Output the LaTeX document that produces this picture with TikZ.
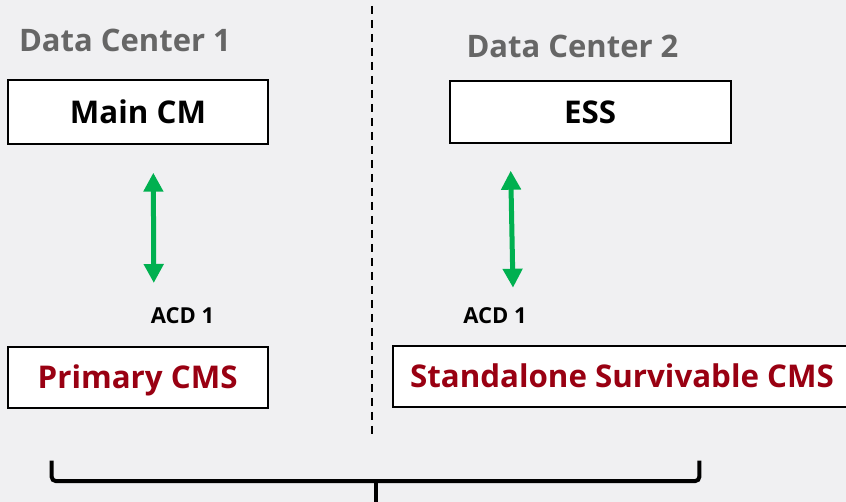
\documentclass[tikz,border=0pt]{standalone}
\usepackage{fontspec}
\setmainfont{Open Sans}
\usetikzlibrary{arrows.meta}
\definecolor{bgc}{HTML}{F0F0F2}
\definecolor{titlegray}{HTML}{666666}
\definecolor{cmsred}{HTML}{990012}
\definecolor{arrgreen}{HTML}{00B050}
\begin{document}
\begin{tikzpicture}[x=1pt,y=-1pt,
  boxnode/.style={draw=black, fill=white, line width=2pt, inner sep=0pt,
    text height=22.5pt, text depth=0pt, font=\bfseries\fontsize{31.3}{36}\selectfont},
  title/.style={anchor=base, text=titlegray, inner sep=0pt,
    font=\bfseries\fontsize{31}{36}\selectfont},
  acd/.style={anchor=base, inner sep=0pt, font=\bfseries\fontsize{22}{26}\selectfont},
  link/.style={draw=arrgreen, line width=5pt,
    {Triangle[length=19pt,width=19pt]}-{Triangle[length=19pt,width=19pt]}},
  divider/.style={line width=2.3pt, dash pattern=on 8pt off 6pt},
  bracestyle/.style={line width=4pt, rounded corners=4pt}]
\fill[bgc] (0,0) rectangle (846,502);
\useasboundingbox (0,0) rectangle (846,502);

% divider
\coordinate (dtop) at (372,6);
\coordinate (dbot) at (372,434);
\draw[divider] (dtop) -- (dbot);

% titles
\node[title] (dc1) at (125,52) {Data Center 1};
\node[title] (dc2) at (572.5,58) {Data Center 2};

% boxes
\node[boxnode, minimum width=260pt, minimum height=64pt] (main) at (138,112.2) {Main CM};
\node[boxnode, minimum width=281pt, minimum height=62pt] (ess) at (590.2,112.2) {ESS};
\node[boxnode, text=cmsred, minimum width=260pt, minimum height=61pt] (prim) at (137.6,377.2) {Primary CMS};
\node[boxnode, text=cmsred, minimum width=458pt, minimum height=61pt] (ssc) at (622,376.7) {Standalone Survivable CMS};

% labels
\node[acd] (acd1) at (182.5,324) {ACD 1};
\node[acd] (acd2) at (495,324) {ACD 1};

% arrows
\coordinate (a1t) at (153.3,172.7);
\coordinate (a1b) at (153.8,283);
\coordinate (a2t) at (510.7,170.7);
\coordinate (a2b) at (513,287.7);
\draw[link] (a1t) -- (a1b);
\draw[link] (a2t) -- (a2b);

% brace
\coordinate (bl) at (51.7,460.7);
\coordinate (br) at (699.3,460.7);
\coordinate (bm) at (375.7,481);
\coordinate (bt) at (375.7,506);
\draw[bracestyle] (bl) |- (bm) -| (br);
\draw[line width=4pt] (bm) -- (bt);
\end{tikzpicture}
\end{document}
